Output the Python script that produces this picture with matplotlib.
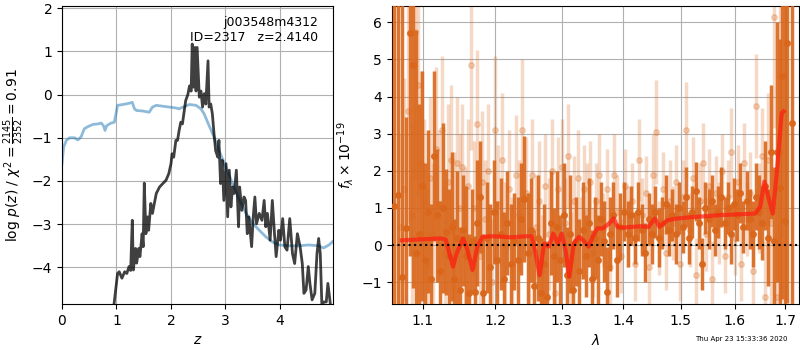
import numpy as np
import matplotlib
matplotlib.use("Agg")
import matplotlib.pyplot as plt
from matplotlib.ticker import FixedLocator, FixedFormatter, NullLocator

# --- left panel: log p(z) and scaled chi2
z_pz = [0.95, 1.02, 1.05, 1.10, 1.15, 1.19, 1.23, 1.26, 1.29, 1.31, 1.35, 1.37, 1.41, 1.43, 1.47,
        1.49, 1.51, 1.54, 1.57, 1.59, 1.63, 1.66, 1.73, 1.79, 1.85, 1.91, 1.96, 2.00, 2.02, 2.05,
        2.09, 2.12, 2.15, 2.18, 2.21, 2.24, 2.27, 2.31, 2.34, 2.37, 2.39, 2.41, 2.44, 2.46, 2.48,
        2.52, 2.55, 2.58, 2.61, 2.64, 2.68, 2.70, 2.73, 2.76, 2.79, 2.82, 2.86, 2.88, 2.91, 2.94,
        2.97, 3.01, 3.04, 3.07, 3.10, 3.13, 3.16, 3.20, 3.24, 3.26, 3.30, 3.34, 3.37, 3.40, 3.43,
        3.48, 3.51, 3.54, 3.57, 3.62, 3.67, 3.71, 3.74, 3.77, 3.82, 3.86, 3.90, 3.93, 3.98, 4.01,
        4.05, 4.09, 4.13, 4.18, 4.23, 4.27, 4.32, 4.37, 4.41, 4.44, 4.48, 4.52, 4.55, 4.59, 4.64,
        4.68, 4.71, 4.74, 4.77, 4.80, 4.85, 4.88, 4.93]
log_pz = [-4.9, -4.14, -4.10, -4.25, -4.10, -4.14, -3.98, -4.07, -2.91, -4.06, -3.56, -3.90, -3.56, -3.75, -3.22,
          -3.52, -2.05, -3.22, -2.83, -3.14, -2.52, -2.75, -2.29, -2.14, -2.06, -1.98, -1.83, -1.60, -1.37, -1.45,
          -1.06, -1.06, -0.83, -0.64, -0.68, -0.41, -0.14, 0.00, 0.20, 0.08, 1.17, 0.17, 1.09, 0.08, 1.09,
          -0.06, 0.08, -0.29, 0.02, -0.22, 0.78, -0.29, -0.22, -0.45, -0.91, -1.30, -1.45, -1.06, -2.06, -1.52,
          -2.45, -1.60, -2.83, -1.75, -2.60, -2.14, -2.29, -1.75, -3.06, -2.14, -2.68, -2.37, -2.45, -3.22, -2.83,
          -3.52, -2.83, -2.37, -2.99, -2.75, -2.91, -2.45, -3.06, -2.75, -3.37, -2.45, -3.22, -3.75, -3.14, -3.37,
          -2.87, -3.52, -3.60, -2.87, -3.68, -3.91, -3.22, -3.52, -3.91, -4.60, -4.52, -3.98, -4.37, -4.75, -4.60,
          -3.68, -3.33, -3.68, -4.90, -4.80, -4.80, -4.37, -4.90]

z_chi = [0.0, 0.03, 0.08, 0.14, 0.23, 0.29, 0.35, 0.41, 0.48, 0.57, 0.66, 0.72, 0.76, 0.79, 0.82,
         0.90, 0.96, 0.99, 1.02, 1.12, 1.24, 1.29, 1.33, 1.37, 1.48, 1.60, 1.66, 1.73, 1.91, 2.09,
         2.15, 2.24, 2.34, 2.46, 2.55, 2.61, 2.70, 2.79, 2.88, 3.01, 3.13, 3.26, 3.38, 3.50, 3.62,
         3.74, 3.86, 3.98, 4.16, 4.35, 4.53, 4.71, 4.80, 4.90, 4.97]
chi_scaled = [-1.60, -1.22, -1.06, -1.00, -1.00, -1.05, -0.98, -0.79, -0.74, -0.69, -0.68, -0.66, -0.72, -0.83, -0.72,
              -0.66, -0.64, -0.45, -0.25, -0.23, -0.20, -0.18, -0.33, -0.37, -0.38, -0.41, -0.29, -0.25, -0.28, -0.31,
              -0.33, -0.28, -0.23, -0.25, -0.33, -0.45, -0.72, -0.98, -1.29, -1.68, -2.06, -2.45, -2.75, -2.98, -3.14,
              -3.29, -3.41, -3.48, -3.50, -3.50, -3.48, -3.50, -3.55, -3.48, -3.40]

# --- right panel: spectrum (two sets of points) and model
wave_a = [1.063, 1.068, 1.073, 1.078, 1.083, 1.087, 1.091, 1.095, 1.099, 1.103, 1.107, 1.111, 1.115, 1.119, 1.123,
          1.127, 1.131, 1.135, 1.139, 1.143, 1.147, 1.151, 1.155, 1.159, 1.163, 1.167, 1.171, 1.175, 1.179, 1.183,
          1.188, 1.193, 1.198, 1.203, 1.208, 1.213, 1.218, 1.223, 1.228, 1.233, 1.238, 1.243, 1.248, 1.253, 1.258,
          1.263, 1.268, 1.273, 1.278, 1.283, 1.288, 1.293, 1.298, 1.303, 1.308, 1.313, 1.318, 1.323, 1.328, 1.333,
          1.338, 1.343, 1.348, 1.353, 1.358, 1.363, 1.368, 1.373, 1.378, 1.383, 1.389, 1.395, 1.401, 1.407, 1.413,
          1.419, 1.425, 1.431, 1.437, 1.443, 1.449, 1.455, 1.461, 1.467, 1.473, 1.479, 1.485, 1.491, 1.497, 1.503,
          1.509, 1.515, 1.521, 1.527, 1.533, 1.539, 1.545, 1.551, 1.557, 1.563, 1.569, 1.575, 1.581, 1.587, 1.593,
          1.599, 1.605, 1.611, 1.617, 1.623, 1.629, 1.635, 1.641, 1.647, 1.653, 1.659, 1.665, 1.671, 1.677, 1.683,
          1.689, 1.693, 1.700, 1.704, 1.714]
flux_a = [1.05, 1.35, -0.85, 0.45, 5.70, 4.85, -0.20, 0.30, 1.60, -0.40, 0.90, -0.90, 2.40, 0.80, -0.70,
          1.00, 0.35, -0.30, 0.50, -0.90, 0.20, -1.20, 0.40, -0.30, -1.30, 0.10, -1.25, 0.60, 1.30, -1.30,
          0.20, -0.60, 0.90, -0.40, 0.30, -0.90, 0.60, -0.50, 0.10, -0.40, 0.70, 1.25, -0.20, 0.40, -1.10,
          0.20, -1.30, -0.50, -1.40, 0.60, -0.30, 0.50, -0.40, 0.80, -0.80, 0.30, -1.20, 0.10, -0.70, 0.40,
          -0.30, 0.60, -0.90, 0.20, -0.40, 0.70, 0.10, -1.25, 0.30, 0.80, -0.40, 0.50, 0.90, 0.30, 0.80,
          0.20, 0.90, 0.40, -0.20, 0.70, 0.30, 0.90, 0.20, 0.60, 1.10, 0.40, 0.80, 0.30, 1.00, 0.50,
          1.30, 0.20, 0.90, 1.45, 0.60, -0.50, 1.00, 0.70, 1.20, 0.40, 0.90, 1.30, 0.60, 1.00, 0.30,
          1.10, 0.80, 1.40, 0.50, 1.20, 0.70, 0.30, 1.30, 0.90, 0.60, 1.60, 0.20, 2.50, 0.10, 2.50,
          1.55, 4.55, 0.65, 5.45, 3.30]
err_a = [8.0, 8.0, 8.0, 3.0, 6.0, 6.0, 6.0, 3.5, 3.1, 2.6, 2.2, 2.0, 2.3, 1.8, 1.9,
         2.3, 1.7, 1.8, 2.0, 1.6, 1.8, 1.7, 1.5, 1.9, 1.6, 1.4, 1.5, 1.7, 1.5, 1.6,
         1.5, 1.7, 1.4, 1.6, 1.5, 1.8, 1.4, 1.6, 1.3, 1.7, 1.5, 1.7, 1.6, 1.4, 1.5,
         1.7, 1.5, 1.6, 1.5, 1.4, 1.3, 1.5, 1.2, 1.4, 1.3, 1.6, 1.3, 1.2, 1.4, 1.3,
         1.1, 1.2, 1.3, 1.1, 1.2, 1.0, 1.1, 1.2, 1.0, 0.9, 1.0, 0.9, 0.8, 0.9, 0.8,
         0.7, 0.8, 0.7, 0.8, 0.7, 0.8, 0.7, 0.8, 0.7, 0.8, 0.7, 0.7, 0.8, 0.7, 0.7,
         0.8, 0.7, 0.7, 0.8, 0.7, 0.7, 0.7, 0.8, 0.7, 0.7, 0.7, 0.8, 0.7, 0.7, 0.8,
         0.7, 0.7, 0.8, 0.7, 0.8, 0.8, 0.9, 0.9, 1.0, 1.0, 1.2, 1.3, 1.8, 2.0, 3.5,
         4.0, 6.0, 7.0, 7.0, 7.0]

wave_b = [1.070, 1.076, 1.081, 1.086, 1.090, 1.094, 1.098, 1.102, 1.106, 1.110, 1.114, 1.118, 1.122, 1.126, 1.130,
          1.134, 1.138, 1.142, 1.146, 1.150, 1.154, 1.158, 1.162, 1.166, 1.170, 1.174, 1.178, 1.182, 1.186, 1.190,
          1.195, 1.200, 1.205, 1.210, 1.215, 1.220, 1.225, 1.230, 1.235, 1.240, 1.245, 1.250, 1.255, 1.260, 1.265,
          1.270, 1.275, 1.280, 1.285, 1.290, 1.295, 1.300, 1.305, 1.310, 1.315, 1.320, 1.325, 1.330, 1.335, 1.340,
          1.345, 1.350, 1.355, 1.360, 1.366, 1.372, 1.378, 1.384, 1.390, 1.396, 1.402, 1.408, 1.414, 1.420, 1.426,
          1.432, 1.438, 1.444, 1.450, 1.456, 1.462, 1.468, 1.474, 1.480, 1.486, 1.492, 1.498, 1.504, 1.510, 1.516,
          1.522, 1.528, 1.534, 1.540, 1.546, 1.552, 1.558, 1.564, 1.570, 1.576, 1.582, 1.588, 1.594, 1.600, 1.606,
          1.612, 1.618, 1.624, 1.630, 1.636, 1.642, 1.648, 1.654, 1.660, 1.666, 1.672, 1.678, 1.684, 1.690]
flux_b = [0.50, 1.50, 3.60, 0.80, 5.75, 4.30, 2.20, 1.20, -0.50, 1.80, 0.30, 2.60, 1.10, 3.10, -0.20,
          1.70, 2.30, 0.60, 2.20, 1.00, 2.10, 0.20, 1.60, 4.85, 1.00, 3.25, -0.30, 1.70, 0.70, 2.00,
          -1.00, 3.10, 1.10, 2.30, 0.00, 1.50, -0.50, 1.90, 0.80, 3.10, 1.40, -0.20, 1.90, 0.50, 1.20,
          -0.70, 1.60, 0.30, 2.00, -1.30, 1.50, 2.10, 0.60, 2.40, -0.40, 1.20, 1.80, 0.20, 1.50, 0.90,
          1.70, -0.20, 1.20, 1.90, 0.40, 1.50, -0.60, 1.90, 0.90, -0.30, 1.60, 0.50, 1.20, -0.50, 2.30,
          0.80, 1.40, -0.60, 1.90, 3.05, 0.20, 1.50, -0.20, 1.20, 0.60, 1.70, -0.50, 1.30, 3.10, 0.40,
          1.80, -0.80, 1.20, 2.20, 0.30, 1.60, -0.90, 1.40, 0.60, 2.00, -0.30, 1.30, 2.50, 0.20, 1.70,
          -0.50, 2.20, 0.70, 1.40, -0.70, 3.75, 1.00, 2.40, -1.40, 2.30, 0.60, 6.15, -1.40, 2.50]
err_b = [2.5, 3.0, 3.0, 2.5, 4.0, 3.0, 2.5, 2.2, 2.0, 2.2, 1.9, 2.2, 2.0, 2.0, 1.8,
         2.1, 2.0, 1.9, 1.8, 2.0, 1.7, 1.9, 1.8, 2.3, 1.8, 2.0, 1.7, 1.9, 1.6, 1.8,
         1.7, 2.0, 1.6, 1.8, 1.7, 1.6, 1.8, 1.6, 1.5, 1.9, 1.5, 1.6, 1.5, 1.4, 1.6,
         1.5, 1.4, 1.5, 1.4, 1.3, 1.4, 1.3, 1.2, 1.4, 1.3, 1.2, 1.3, 1.1, 1.2, 1.3,
         1.1, 1.2, 1.0, 1.1, 1.0, 1.1, 1.0, 1.1, 1.0, 1.0, 1.0, 1.1, 1.0, 1.0, 1.1,
         1.0, 1.0, 1.0, 1.1, 1.4, 1.0, 1.0, 1.0, 1.1, 1.0, 1.0, 1.0, 1.0, 1.3, 1.0,
         1.1, 1.0, 1.0, 1.1, 1.0, 1.0, 1.0, 1.0, 1.1, 1.0, 1.0, 1.0, 1.2, 1.0, 1.0,
         1.0, 1.1, 1.0, 1.1, 1.0, 1.4, 1.2, 1.3, 1.5, 1.8, 2.5, 3.0, 3.0, 4.0]

wave_m = [1.073, 1.124, 1.131, 1.141, 1.146, 1.155, 1.161, 1.168, 1.175, 1.182, 1.195, 1.223, 1.247, 1.254, 1.260,
          1.266, 1.273, 1.280, 1.287, 1.294, 1.300, 1.306, 1.312, 1.319, 1.327, 1.334, 1.343, 1.349, 1.357, 1.366,
          1.376, 1.384, 1.390, 1.399, 1.430, 1.443, 1.454, 1.462, 1.476, 1.495, 1.518, 1.547, 1.576, 1.610, 1.640,
          1.650, 1.658, 1.666, 1.675, 1.683, 1.693, 1.697]
flux_m = [0.13, 0.18, 0.15, -0.58, -0.22, 0.18, -0.13, -0.67, -0.04, 0.22, 0.24, 0.21, 0.24, 0.24, -0.22,
          -0.81, 0.04, -0.04, 0.31, 0.04, 0.31, -0.13, -0.85, 0.04, 0.22, 0.13, -0.04, 0.22, 0.45, 0.45,
          0.58, 0.72, 0.49, 0.47, 0.51, 0.49, 0.72, 0.49, 0.67, 0.72, 0.75, 0.78, 0.81, 0.83, 0.85,
          1.03, 1.71, 1.30, 0.85, 1.93, 3.55, 3.60]

fig = plt.figure(figsize=(8, 3.5), dpi=100)
ax1 = fig.add_axes([0.0775, 0.131, 0.3385, 0.852])
ax2 = fig.add_axes([0.4896, 0.131, 0.5094, 0.852])

ax1.plot(z_chi, chi_scaled, color='tab:blue', alpha=0.5, lw=2)
ax1.plot(z_pz, log_pz, color='k', alpha=0.75, lw=2)
ax1.set_xlim(0, 4.97)
ax1.set_ylim(-4.85, 2.05)
ax1.set_xticks([0, 1, 2, 3, 4])
ax1.grid()
ax1.set_xlabel('$z$')
ax1.set_ylabel(r'log $p(z)$ / $\chi^2=\frac{2145}{2352}=0.91$')
ax1.text(0.945, 0.965, 'j003548m4312\nID=2317   z=2.4140', transform=ax1.transAxes,
         ha='right', va='top', fontsize=9)

c = '#d9661a'
ax2.errorbar(wave_b, flux_b, yerr=err_b, fmt='o', color=c, alpha=0.25, ms=4, elinewidth=2.5, zorder=2)
ax2.errorbar(wave_a, flux_a, yerr=err_a, fmt='o', color=c, alpha=0.9, ms=4, elinewidth=2.5, zorder=3)
ax2.plot(wave_m, flux_m, color='#ff1a10', alpha=0.7, lw=3, zorder=4)
ax2.axhline(0, color='k', ls=':', lw=1.5, zorder=5)
ax2.set_xscale('log')
ax2.set_xlim(1.06, 1.729)
ax2.set_ylim(-1.59, 6.44)
ticks = [1.1, 1.2, 1.3, 1.4, 1.5, 1.6, 1.7]
ax2.xaxis.set_major_locator(FixedLocator(ticks))
ax2.xaxis.set_major_formatter(FixedFormatter(['%.1f' % t for t in ticks]))
ax2.xaxis.set_minor_locator(NullLocator())
ax2.grid()
ax2.set_xlabel(r'$\lambda$')
ax2.set_ylabel(r'$f_\lambda \times 10^{-19}$')

fig.text(0.984, 0.022, 'Thu Apr 23 15:33:36 2020', ha='right', va='bottom', fontsize=5)

fig.savefig('out.png', dpi=100)
